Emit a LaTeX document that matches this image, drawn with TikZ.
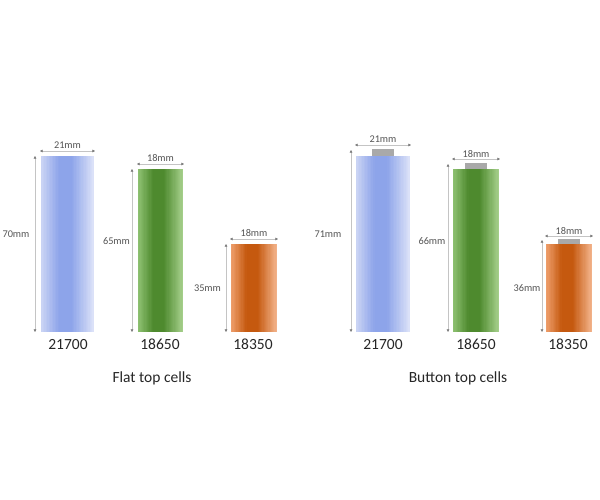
\documentclass[tikz,border=0pt]{standalone}
\usepackage{fontspec}
\setmainfont{Carlito}
\usetikzlibrary{arrows.meta}
\definecolor{bL}{HTML}{CCD5F4}
\definecolor{bD}{HTML}{8DA4EA}
\definecolor{bR}{HTML}{DDE3F8}
\definecolor{gL}{HTML}{8FC273}
\definecolor{gD}{HTML}{4E8A2E}
\definecolor{gR}{HTML}{A6D08C}
\definecolor{oL}{HTML}{EFA06E}
\definecolor{oD}{HTML}{C5590F}
\definecolor{oR}{HTML}{F3B48C}
\definecolor{btn}{HTML}{A9A9A9}
\definecolor{dimc}{HTML}{C4C4C4}
\definecolor{tipc}{HTML}{7A7A7A}
\definecolor{dimt}{HTML}{555555}
\tikzset{
  cell/.style={rectangle, inner sep=0pt, draw=none},
  button/.style={rectangle, inner sep=0pt, fill=btn, draw=none},
  dimline/.style={draw=dimc, line width=0.5pt, {Triangle[length=2.6pt,width=2.6pt,color=tipc]}-{Triangle[length=2.6pt,width=2.6pt,color=tipc]}},
  dimlabel/.style={font=\fontsize{10.3}{11}\selectfont, text=dimt, inner sep=0pt},
  namelabel/.style={font=\fontsize{15.5}{16}\selectfont, text=black!85, inner sep=0pt},
  caption/.style={font=\fontsize{15.5}{16}\selectfont, text=black!85, inner sep=0pt}
}
% name, colour prefix, xl, xr, yt, yb
\newcommand{\mkcell}[6]{%
  \pgfmathsetmacro{\xa}{#3}\pgfmathsetmacro{\xd}{#4}%
  \pgfmathsetmacro{\xb}{#3+0.34*(#4-#3)}\pgfmathsetmacro{\xc}{#3+0.58*(#4-#3)}%
  \pgfmathsetmacro{\wl}{(\xb-\xa)/12}\pgfmathsetmacro{\wr}{(\xd-\xc)/16}%
  \fill[#2D] (\xa,#5) rectangle (\xd,#6);
  \foreach \i in {0,...,11}{%
    \pgfmathsetmacro{\pp}{100*(\i+0.5)/12}%
    \fill[#2D!\pp!#2L] ({\xa+\i*\wl},#5) rectangle ({\xa+(\i+1)*\wl+0.15},#6);
  }
  \foreach \i in {0,...,15}{%
    \pgfmathsetmacro{\pp}{100*(\i+0.5)/16}%
    \fill[#2R!\pp!#2D] ({\xc+\i*\wr-0.15},#5) rectangle ({\xc+(\i+1)*\wr},#6);
  }
  \node[cell, minimum width={(#4-#3)*1pt}, minimum height={(#6-#5)*1pt}] (#1) at ({(#3+#4)/2},{(#5+#6)/2}) {};
}
\begin{document}
\begin{tikzpicture}[x=1pt,y=-1pt]
\useasboundingbox (0,0) rectangle (600,500);
\fill[white] (0,0) rectangle (600,500);
% ---------- Flat top cells ----------
\mkcell{fa}{b}{41}{94}{156}{332}
\mkcell{fb}{g}{138}{183}{169}{332}
\mkcell{fc}{o}{231}{277}{244}{332}
% width dims
\coordinate (faw1) at (40,151); \coordinate (faw2) at (95,151);
\draw[dimline] (faw1) -- (faw2);
\node[dimlabel] (fawl) at (67.5,145) {21mm};
\coordinate (fbw1) at (137,164); \coordinate (fbw2) at (184,164);
\draw[dimline] (fbw1) -- (fbw2);
\node[dimlabel] (fbwl) at (160.5,158.5) {18mm};
\coordinate (fcw1) at (230,239); \coordinate (fcw2) at (278,239);
\draw[dimline] (fcw1) -- (fcw2);
\node[dimlabel] (fcwl) at (254,233.5) {18mm};
% height dims
\coordinate (fah1) at (35,156); \coordinate (fah2) at (35,332);
\draw[dimline] (fah1) -- (fah2);
\node[dimlabel] (fahl) at (16,234) {70mm};
\coordinate (fbh1) at (132,169); \coordinate (fbh2) at (132,332);
\draw[dimline] (fbh1) -- (fbh2);
\node[dimlabel] (fbhl) at (116.5,241) {65mm};
\coordinate (fch1) at (226,244); \coordinate (fch2) at (226,332);
\draw[dimline] (fch1) -- (fch2);
\node[dimlabel] (fchl) at (207.5,288) {35mm};
% names
\node[namelabel] (fan) at (68,344.5) {21700};
\node[namelabel] (fbn) at (160,344.5) {18650};
\node[namelabel] (fcn) at (253,344.5) {18350};
\node[caption] (fcap) at (152,378) {Flat top cells};
% ---------- Button top cells ----------
\mkcell{ba}{b}{356}{410}{156}{332}
\mkcell{bb}{g}{453}{499}{169}{332}
\mkcell{bc}{o}{546}{592}{244}{332}
\node[button, minimum width=22pt, minimum height=6.5pt, anchor=south] (bab) at (ba.north) {};
\node[button, minimum width=22pt, minimum height=6pt, anchor=south] (bbb) at (bb.north) {};
\node[button, minimum width=22pt, minimum height=5pt, anchor=south] (bcb) at (bc.north) {};
% width dims
\coordinate (baw1) at (355,145); \coordinate (baw2) at (411,145);
\draw[dimline] (baw1) -- (baw2);
\node[dimlabel] (bawl) at (383,139) {21mm};
\coordinate (bbw1) at (452,159); \coordinate (bbw2) at (500,159);
\draw[dimline] (bbw1) -- (bbw2);
\node[dimlabel] (bbwl) at (476,154) {18mm};
\coordinate (bcw1) at (545,236); \coordinate (bcw2) at (593,236);
\draw[dimline] (bcw1) -- (bcw2);
\node[dimlabel] (bcwl) at (569,231) {18mm};
% height dims
\coordinate (bah1) at (351,150); \coordinate (bah2) at (351,332);
\draw[dimline] (bah1) -- (bah2);
\node[dimlabel] (bahl) at (328,234) {71mm};
\coordinate (bbh1) at (448,164); \coordinate (bbh2) at (448,332);
\draw[dimline] (bbh1) -- (bbh2);
\node[dimlabel] (bbhl) at (432,241) {66mm};
\coordinate (bch1) at (542,240); \coordinate (bch2) at (542,332);
\draw[dimline] (bch1) -- (bch2);
\node[dimlabel] (bchl) at (527,288) {36mm};
% names
\node[namelabel] (ban) at (383,344.5) {21700};
\node[namelabel] (bbn) at (476,344.5) {18650};
\node[namelabel] (bcn) at (568,344.5) {18350};
\node[caption] (bcap) at (458,378) {Button top cells};
\end{tikzpicture}
\end{document}
